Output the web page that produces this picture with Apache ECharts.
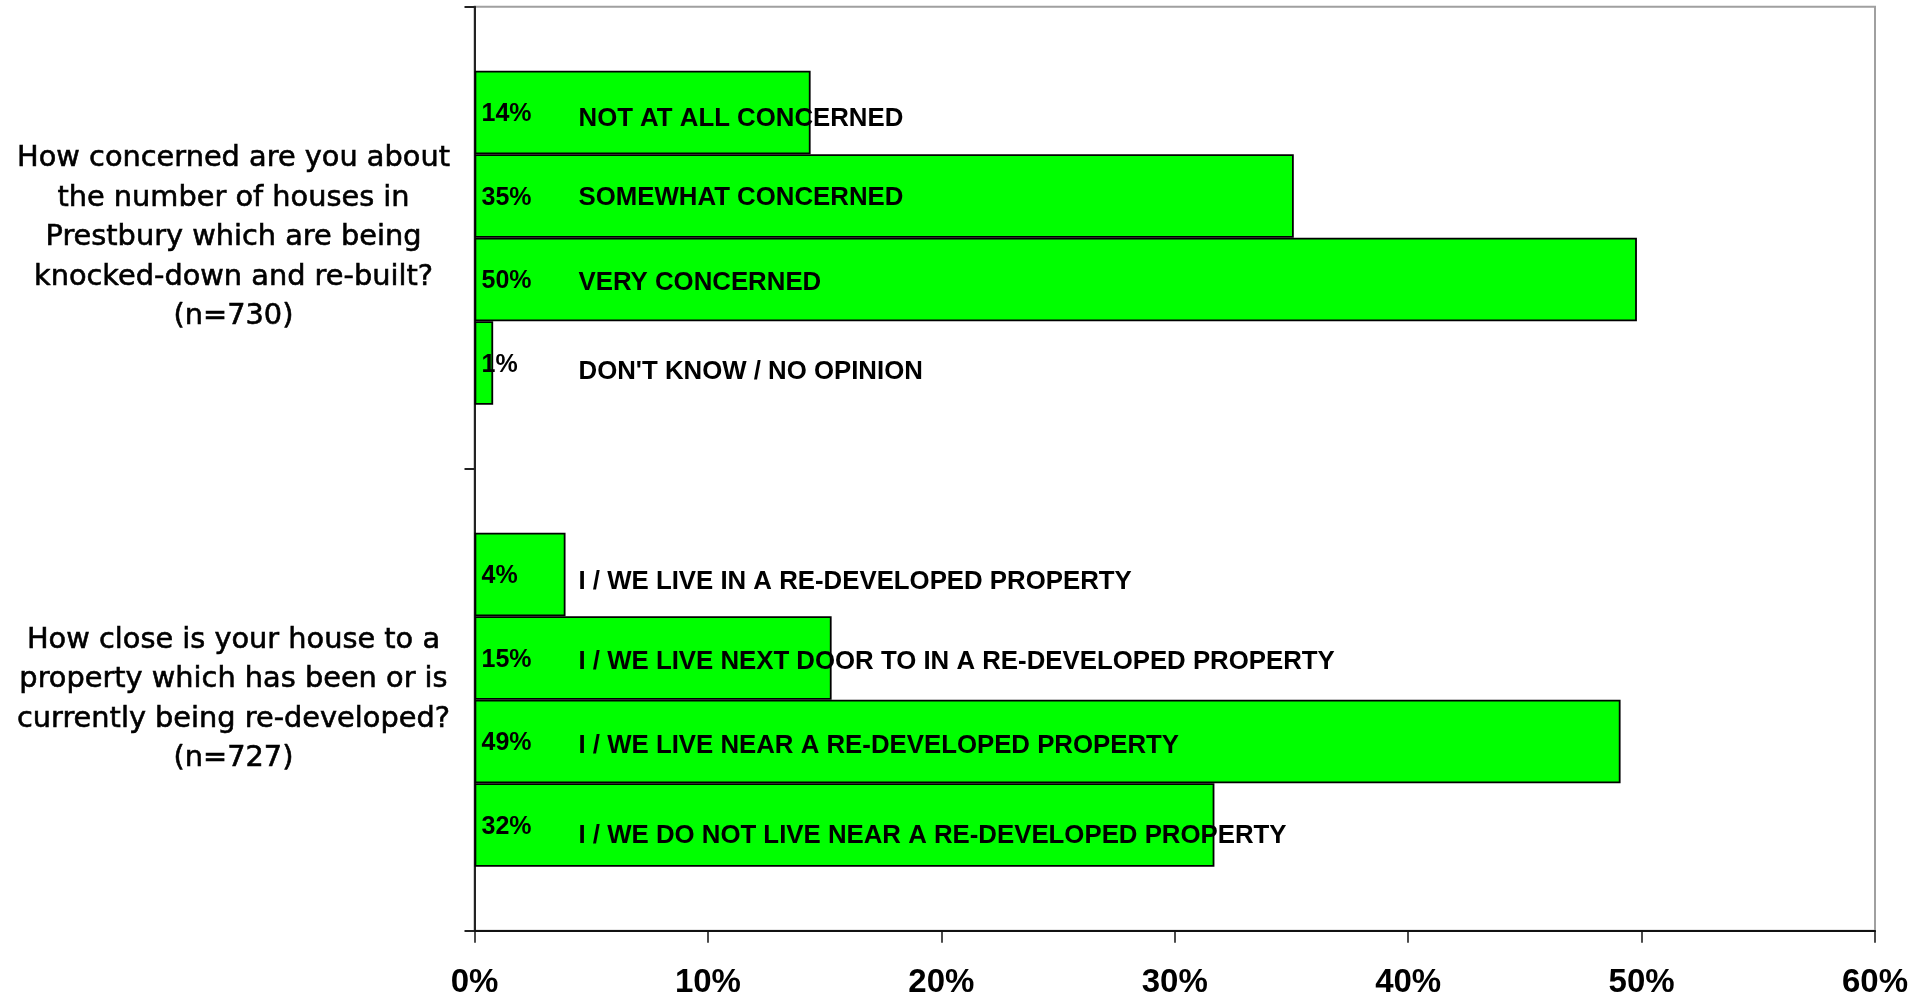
<!DOCTYPE html>
<html>
<head>
<meta charset="utf-8">
<script src="https://cdn.jsdelivr.net/npm/echarts@6/dist/echarts.min.js"></script>
<style>
html,body{margin:0;padding:0;background:#fff;}
#chart{width:1923px;height:1000px;}
</style>
</head>
<body>
<div id="chart"></div>
<script>
// Questions (category axis)
var questions = [
  "How concerned are you about\nthe number of houses in\nPrestbury which are being\nknocked-down and re-built?\n(n=730)",
  "How close is your house to a\nproperty which has been or is\ncurrently being re-developed?\n(n=727)"
];
// Answer texts: one list per bar slot, [question 1 answer, question 2 answer]
var answers1 = ["NOT AT ALL CONCERNED", "I / WE LIVE IN A RE-DEVELOPED PROPERTY"];
var answers2 = ["SOMEWHAT CONCERNED", "I / WE LIVE NEXT DOOR TO IN A RE-DEVELOPED PROPERTY"];
var answers3 = ["VERY CONCERNED", "I / WE LIVE NEAR A RE-DEVELOPED PROPERTY"];
var answers4 = ["DON'T KNOW / NO OPINION", "I / WE DO NOT LIVE NEAR A RE-DEVELOPED PROPERTY"];
// Values (%) per bar slot, [question 1, question 2]
var values1 = [14.4, 3.9];
var values2 = [35.1, 15.3];
var values3 = [49.8, 49.1];
var values4 = [0.8, 31.7];
// Value axis ticks
var axisMin = 0, axisMax = 60, axisStep = 10;

// ---- styling (not data) ----
// small downward shift (px) of each answer text, as in the original layout
var answerShiftStyle = [[4, 5], [0, 2], [1, 2], [7, 9]];

var slots = [
  {values: values1, answers: answers1},
  {values: values2, answers: answers2},
  {values: values3, answers: answers3},
  {values: values4, answers: answers4}
];

var rich = {
  p: {width: 97, fontFamily: 'Liberation Sans', fontWeight: 'bold', fontSize: 25, color: '#000'}
};
for (var k = 0; k <= 10; k++) {
  rich['a' + k] = {
    fontFamily: 'Liberation Sans', fontWeight: 'bold', fontSize: 25.8, color: '#000',
    padding: [k * 2, 0, 0, 0]
  };
}

var series = slots.map(function (s, i) {
  return {
    type: 'bar',
    name: 'slot' + (i + 1),
    data: s.values,
    barGap: '0%',
    barCategoryGap: '27.7%',
    itemStyle: {color: '#00ff00', borderColor: '#000', borderWidth: 1.8},
    label: {
      show: true,
      position: [7, '50%'],
      offset: [0, 2],
      verticalAlign: 'middle',
      align: 'left',
      formatter: function (p) {
        var sh = answerShiftStyle[i][p.dataIndex];
        return '{p|' + Math.round(p.value) + '%}{a' + sh + '|' + s.answers[p.dataIndex] + '}';
      },
      rich: rich
    },
    emphasis: {disabled: true},
    animation: false
  };
});

var chart = echarts.init(document.getElementById('chart'), null, {renderer: 'canvas'});
chart.setOption({
  backgroundColor: '#ffffff',
  animation: false,
  grid: {
    left: 474.5, right: 48, top: 6.7, bottom: 69.3,
    containLabel: false, outerBoundsMode: 'none',
    show: true, borderColor: '#a0a0a0', borderWidth: 2, backgroundColor: 'transparent'
  },
  xAxis: {
    type: 'value',
    min: axisMin, max: axisMax, interval: axisStep,
    axisLine: {show: true, onZero: false, lineStyle: {color: '#111', width: 2}},
    axisTick: {show: true, inside: false, length: 12, lineStyle: {color: '#111', width: 1.5}},
    splitLine: {show: false},
    axisLabel: {
      formatter: '{value}%', margin: 36,
      fontFamily: 'Liberation Sans', fontWeight: 'bold', fontSize: 33, color: '#000'
    }
  },
  yAxis: {
    type: 'category',
    inverse: true,
    data: questions,
    axisLine: {show: true, lineStyle: {color: '#222', width: 2}},
    axisTick: {show: true, inside: false, length: 10, lineStyle: {color: '#222', width: 2}},
    axisLabel: {
      align: 'center', margin: 241, lineHeight: 39.5,
      fontFamily: 'DejaVu Sans', fontSize: 28.8, color: '#000',
      textBorderColor: '#000', textBorderWidth: 0.6
    }
  },
  series: series
});
</script>
</body>
</html>
